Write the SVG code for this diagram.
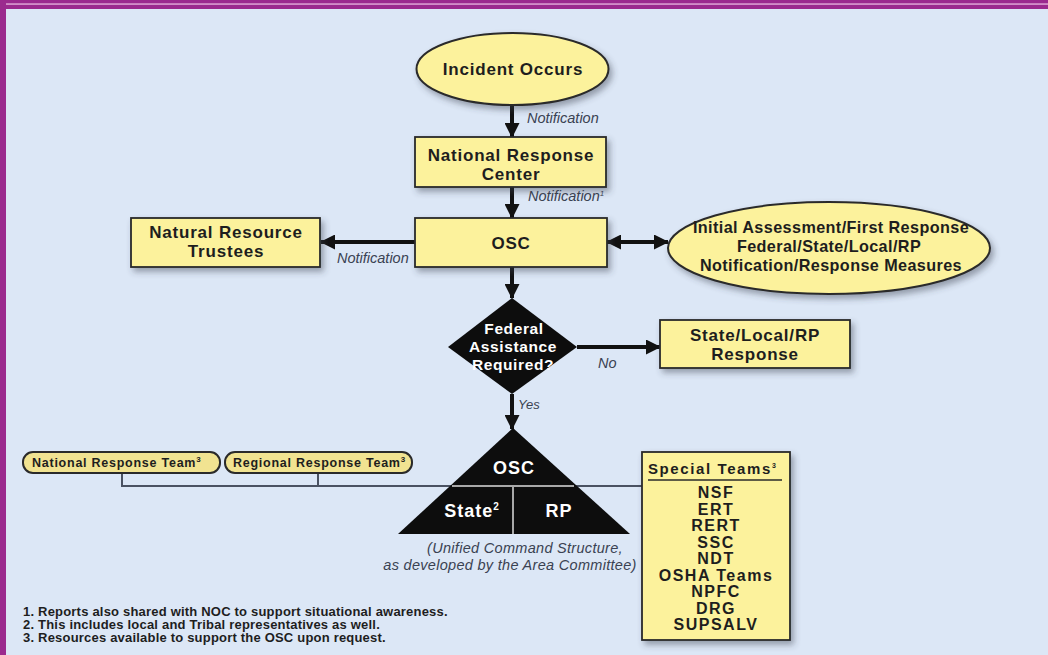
<svg xmlns="http://www.w3.org/2000/svg" width="1048" height="655" viewBox="0 0 1048 655">
<defs>
<filter id="sh" x="-10%" y="-10%" width="130%" height="140%">
<feDropShadow dx="3" dy="4" stdDeviation="3" flood-color="#3a4050" flood-opacity="0.45"/>
</filter>
<marker id="ah" viewBox="0 0 15 15" refX="14" refY="7.5" markerWidth="15" markerHeight="15" markerUnits="userSpaceOnUse" orient="auto-start-reverse">
<path d="M0,0 L15,7.5 L0,15 Z" fill="#111"/>
</marker>
<style>
.box{fill:#fcf29c;stroke:#2a2a2a;stroke-width:1.8;filter:url(#sh)}
.pill{fill:#f1e391;stroke:#2a2a2a;stroke-width:2}
.t{font-family:"Liberation Sans",Arial,sans-serif;font-weight:bold;font-size:17px;letter-spacing:0.8px;fill:#1e1e1e;text-anchor:middle}
.te{font-family:"Liberation Sans",Arial,sans-serif;font-weight:bold;font-size:16.2px;letter-spacing:0.4px;fill:#1e1e1e;text-anchor:middle}
.tw{font-family:"Liberation Sans",Arial,sans-serif;font-weight:bold;font-size:15.5px;letter-spacing:0.6px;fill:#ffffff;text-anchor:middle}
.tw2{font-family:"Liberation Sans",Arial,sans-serif;font-weight:bold;font-size:18px;letter-spacing:1px;fill:#ffffff;text-anchor:middle}
.tp{font-family:"Liberation Sans",Arial,sans-serif;font-weight:bold;font-size:12.5px;letter-spacing:0.75px;fill:#1e1e1e}
.th{font-family:"Liberation Sans",Arial,sans-serif;font-weight:bold;font-size:15px;letter-spacing:1.6px;fill:#1e1e1e}
.ts{font-family:"Liberation Sans",Arial,sans-serif;font-weight:bold;font-size:16px;letter-spacing:1.5px;fill:#1e1e1e;text-anchor:middle}
.lab{font-family:"Liberation Sans",Arial,sans-serif;font-style:italic;font-size:14.5px;fill:#3a4252}
.cap{font-family:"Liberation Sans",Arial,sans-serif;font-style:italic;font-size:14.5px;letter-spacing:0.3px;fill:#3a4252;text-anchor:middle}
.fn{font-family:"Liberation Sans",Arial,sans-serif;font-weight:bold;font-size:13px;letter-spacing:0.2px;fill:#1e1e1e}
.arr{stroke:#111;stroke-width:4;fill:none;marker-end:url(#ah)}
.gl{stroke:#4a5262;stroke-width:2;fill:none}
</style>
</defs>
<rect width="1048" height="655" fill="#dce7f6"/>
<rect x="0" y="0" width="1048" height="9" fill="#9b2a8e"/>
<rect x="0" y="3.4" width="1048" height="1.3" fill="#e8b8e0"/>
<rect x="0" y="0" width="6" height="655" fill="#9b2a8e"/>

<g id="connectors">
<line class="arr" x1="512" y1="106" x2="512" y2="137"/>
<line class="arr" x1="512" y1="187" x2="512" y2="218"/>
<line class="arr" x1="415" y1="242" x2="321" y2="242"/>
<line class="arr" x1="607" y1="242" x2="668" y2="242" style="marker-start:url(#ah)"/>
<line class="arr" x1="512" y1="267" x2="512" y2="298"/>
<line class="arr" x1="577" y1="347" x2="660" y2="347"/>
<line class="arr" x1="512" y1="394" x2="512" y2="429"/>
<polyline class="gl" points="122,473 122,486 452,486"/>
<line class="gl" x1="318" y1="473" x2="318" y2="486"/>
<line class="gl" x1="574" y1="486" x2="642" y2="486"/>
<text class="lab" x="527" y="123">Notification</text>
<text class="lab" x="528" y="201">Notification<tspan font-size="8" dy="-5">1</tspan></text>
<text class="lab" x="337" y="263">Notification</text>
<text class="lab" x="598" y="368">No</text>
<text class="lab" x="518" y="409" style="font-size:13px">Yes</text>
</g>

<g id="incident">
<ellipse cx="512.5" cy="69" rx="96" ry="36" fill="#fcf29c" stroke="#2a2a2a" stroke-width="2" filter="url(#sh)"/>
<text class="t" x="513" y="75">Incident Occurs</text>
</g>

<g id="nrc">
<rect class="box" x="415" y="137" width="191" height="50"/>
<text class="t" x="511" y="161">National Response</text>
<text class="t" x="511" y="180">Center</text>
</g>

<g id="osc">
<rect class="box" x="415" y="218" width="192" height="49"/>
<text class="t" x="511" y="249">OSC</text>
</g>

<g id="trustees">
<rect class="box" x="131" y="218" width="189" height="49"/>
<text class="t" x="226" y="238">Natural Resource</text>
<text class="t" x="226" y="257">Trustees</text>
</g>

<g id="initial">
<ellipse cx="829" cy="248" rx="161" ry="46" fill="#fcf29c" stroke="#2a2a2a" stroke-width="2" filter="url(#sh)"/>
<text class="te" x="831" y="233">Initial Assessment/First Response</text>
<text class="te" x="829" y="252">Federal/State/Local/RP</text>
<text class="te" x="831" y="271">Notification/Response Measures</text>
</g>

<g id="decision">
<polygon points="512,298 577,347 512,394 448,347" fill="#0d0d0d"/>
<text class="tw" x="514" y="334">Federal</text>
<text class="tw" x="513" y="352">Assistance</text>
<text class="tw" x="513" y="370">Required?</text>
</g>

<g id="statelocal">
<rect class="box" x="660" y="320" width="190" height="48"/>
<text class="t" x="755" y="341">State/Local/RP</text>
<text class="t" x="755" y="360">Response</text>
</g>

<g id="unified">
<polygon points="513,428 398,534 630,534" fill="#0d0d0d"/>
<line x1="452" y1="486" x2="574" y2="486" stroke="#a8a8a8" stroke-width="2"/>
<line x1="513" y1="486" x2="513" y2="534" stroke="#a8a8a8" stroke-width="2"/>
<text class="tw2" x="514" y="474">OSC</text>
<text class="tw2" x="472" y="517">State<tspan style="font-size:10px" dy="-7">2</tspan></text>
<text class="tw2" x="559" y="517">RP</text>
<text class="cap" x="525" y="553">(Unified Command Structure,</text>
<text class="cap" x="510" y="570">as developed by the Area Committee)</text>
</g>

<g id="nrt">
<rect class="pill" x="23" y="452" width="197" height="21" rx="10"/>
<text class="tp" x="32" y="467">National Response Team<tspan style="font-size:8px" dy="-5">3</tspan></text>
</g>

<g id="rrt">
<rect class="pill" x="225" y="452" width="187" height="21" rx="10"/>
<text class="tp" x="233" y="467">Regional Response Team<tspan style="font-size:8px" dy="-5">3</tspan></text>
</g>

<g id="special">
<rect class="box" x="642" y="452" width="148" height="188"/>
<text class="th" x="648" y="474">Special Teams<tspan style="font-size:7px" dy="-6">3</tspan></text>
<line x1="648" y1="480" x2="782" y2="480" stroke="#2a2a2a" stroke-width="1.5"/>
<text class="ts" x="716" y="498">NSF</text>
<text class="ts" x="716" y="514.5">ERT</text>
<text class="ts" x="716" y="531">RERT</text>
<text class="ts" x="716" y="547.5">SSC</text>
<text class="ts" x="716" y="564">NDT</text>
<text class="ts" x="716" y="580.5">OSHA Teams</text>
<text class="ts" x="716" y="597">NPFC</text>
<text class="ts" x="716" y="613.5">DRG</text>
<text class="ts" x="716" y="630">SUPSALV</text>
</g>

<g id="footnotes">
<text class="fn" x="23" y="616">1. Reports also shared with NOC to support situational awareness.</text>
<text class="fn" x="23" y="629">2. This includes local and Tribal representatives as well.</text>
<text class="fn" x="23" y="642">3. Resources available to support the OSC upon request.</text>
</g>
</svg>
